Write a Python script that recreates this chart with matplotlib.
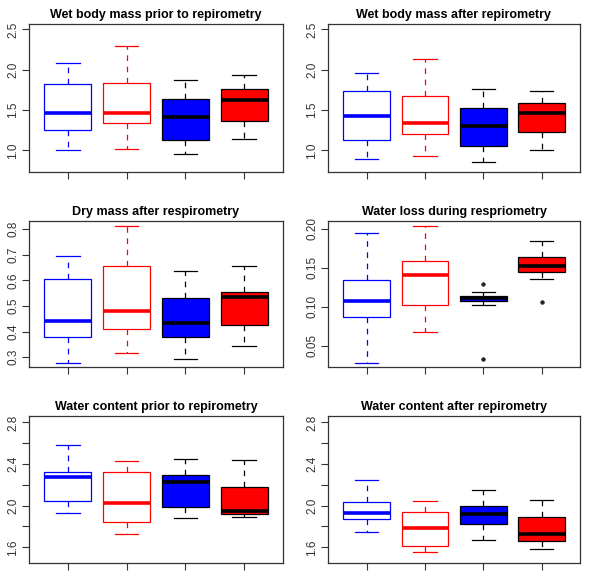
import matplotlib

matplotlib.use("Agg")
import matplotlib.pyplot as plt

plt.rcParams["font.family"] = ["Liberation Sans", "DejaVu Sans"]

# ---- data: per panel, per group (whislo, q1, med, q3, whishi) ----
titles = [
    "Wet body mass prior to repirometry",
    "Wet body mass after repirometry",
    "Dry mass after respirometry",
    "Water loss during respriometry",
    "Water content prior to repirometry",
    "Water content after repirometry",
]

wet_prior = [(1.00, 1.247, 1.465, 1.825, 2.09),
             (1.02, 1.343, 1.465, 1.838, 2.30),
             (0.96, 1.126, 1.42, 1.637, 1.87),
             (1.14, 1.364, 1.62, 1.76, 1.93)]
wet_after = [(0.89, 1.13, 1.43, 1.737, 1.96),
             (0.93, 1.20, 1.345, 1.68, 2.14),
             (0.85, 1.06, 1.30, 1.52, 1.76),
             (1.00, 1.225, 1.46, 1.59, 1.74)]
dry_after = [(0.279, 0.377, 0.443, 0.606, 0.696),
             (0.316, 0.409, 0.482, 0.657, 0.812),
             (0.294, 0.377, 0.432, 0.531, 0.636),
             (0.345, 0.425, 0.534, 0.555, 0.655)]
water_loss = [(0.0286, 0.0876, 0.107, 0.135, 0.194),
              (0.0675, 0.102, 0.1406, 0.159, 0.204),
              (0.103, 0.1077, 0.111, 0.114, 0.119),
              (0.136, 0.1444, 0.1526, 0.1645, 0.184)]
water_loss_out = [[], [], [0.129, 0.0338], [0.1068]]
wc_prior = [(1.927, 2.043, 2.28, 2.325, 2.585),
            (1.728, 1.847, 2.03, 2.328, 2.431),
            (1.886, 1.985, 2.226, 2.296, 2.453),
            (1.895, 1.924, 1.95, 2.181, 2.437)]
wc_after = [(1.744, 1.876, 1.93, 2.04, 2.248),
            (1.552, 1.613, 1.783, 1.937, 2.043),
            (1.674, 1.828, 1.924, 1.998, 2.152),
            (1.58, 1.664, 1.728, 1.895, 2.052)]

panels = [wet_prior, wet_after, dry_after, water_loss, wc_prior, wc_after]
outliers = [[[]] * 4, [[]] * 4, [[]] * 4, water_loss_out, [[]] * 4, [[]] * 4]

yticks = [[1.0, 1.5, 2.0, 2.5], [1.0, 1.5, 2.0, 2.5],
          [0.3, 0.4, 0.5, 0.6, 0.7, 0.8], [0.05, 0.10, 0.15, 0.20],
          [1.6, 1.8, 2.0, 2.2, 2.4, 2.6, 2.8], [1.6, 1.8, 2.0, 2.2, 2.4, 2.6, 2.8]]
ylabels = [["1.0", "1.5", "2.0", "2.5"], ["1.0", "1.5", "2.0", "2.5"],
           ["0.3", "0.4", "0.5", "0.6", "0.7", "0.8"], ["0.05", "0.10", "0.15", "0.20"],
           ["1.6", "", "2.0", "", "2.4", "", "2.8"], ["1.6", "", "2.0", "", "2.4", "", "2.8"]]
ylims = [(0.732, 2.568), (0.732, 2.568), (0.262, 0.831), (0.023, 0.210),
         (1.449, 2.862), (1.449, 2.862)]

BLUE, RED = "#0000FF", "#FF0000"
edge = [BLUE, RED, "black", "black"]
face = ["white", "white", BLUE, RED]

# axes rectangles in figure fractions
W, H = 589, 577
lefts = [29, 328]
widths = [254, 252]
rows = [(24, 172), (221, 367), (416, 563)]

fig = plt.figure(figsize=(W / 100, H / 100), dpi=100)

for i, (data, title) in enumerate(zip(panels, titles)):
    r, c = divmod(i, 2)
    top, bot = rows[r]
    ax = fig.add_axes([lefts[c] / W, 1 - bot / H, widths[c] / W, (bot - top) / H])

    stats = []
    for (lo, q1, med, q3, hi), fl in zip(data, outliers[i]):
        stats.append(dict(whislo=lo, q1=q1, med=med, q3=q3, whishi=hi, fliers=fl))

    art = ax.bxp(stats, positions=[1, 2, 3, 4], widths=0.8, patch_artist=True,
                 capwidths=0.4, showfliers=True)
    for k in range(4):
        art["boxes"][k].set(facecolor=face[k], edgecolor=edge[k], linewidth=0.9)
        art["medians"][k].set(color=edge[k], linewidth=2.6, solid_capstyle="butt")
        for w in art["whiskers"][2 * k:2 * k + 2]:
            w.set(color=edge[k], linewidth=0.9, linestyle=(0, (4.5, 4.5)))
        for cp in art["caps"][2 * k:2 * k + 2]:
            cp.set(color=edge[k], linewidth=0.9)
        art["fliers"][k].set(marker="o", markersize=2.6, markerfacecolor="#222222",
                             markeredgecolor="#222222", markeredgewidth=0.5)

    ax.set_xlim(0.34, 4.66)
    ax.set_ylim(*ylims[i])
    ax.set_xticks([1, 2, 3, 4])
    ax.set_xticklabels([])
    ax.set_yticks(yticks[i])
    ax.set_yticklabels(ylabels[i], rotation=90, va="center", fontsize=8.5, color="#333333")
    ax.tick_params(length=5, width=0.8, color="#333333", pad=2)
    for sp in ax.spines.values():
        sp.set_linewidth(0.9)
        sp.set_color("#333333")
    ax.set_title(title, fontsize=9, fontweight="bold", pad=4)

fig.savefig("out.png", dpi=100)
